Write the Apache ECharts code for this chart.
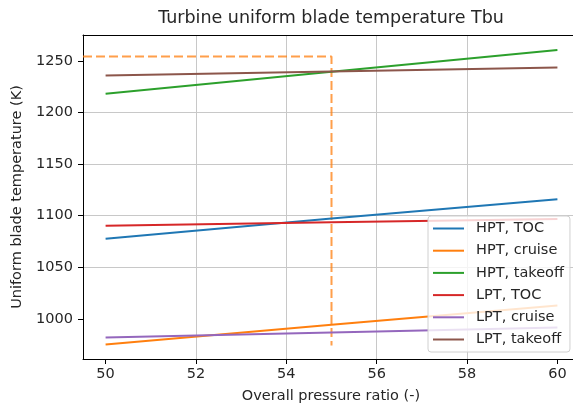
<!DOCTYPE html>
<html>
<head>
<meta charset="utf-8">
<script src="https://cdn.jsdelivr.net/npm/echarts@6/dist/echarts.min.js"></script>
<style>
html,body{margin:0;padding:0;background:#fff;}
#chart{width:573px;height:405px;}
</style>
</head>
<body>
<div id="chart"></div>
<script>
// Data
var opr = [50, 55, 60];
var seriesNames = ['HPT, TOC', 'HPT, cruise', 'HPT, takeoff', 'LPT, TOC', 'LPT, cruise', 'LPT, takeoff'];
var hptToc = [1077.5, 1097.2, 1115.8];
var hptCruise = [975.1, 994.1, 1012.9];
var hptTakeoff = [1218.0, 1239.3, 1260.4];
var lptToc = [1090.1, 1093.5, 1096.6];
var lptCruise = [981.9, 986.7, 991.6];
var lptTakeoff = [1235.8, 1239.7, 1243.6];
var markerX = [49.5, 55, 55];
var markerY = [1254.2, 1254.2, 974.0];
var xTicks = [50, 52, 54, 56, 58, 60];
var yTicks = [1000, 1050, 1100, 1150, 1200, 1250];

var colors = ['#1f77b4', '#ff7f0e', '#2ca02c', '#d62728', '#9467bd', '#8c564b'];
var allValues = [hptToc, hptCruise, hptTakeoff, lptToc, lptCruise, lptTakeoff];

function pairs(xs, ys) { return xs.map(function (x, i) { return [x, ys[i]]; }); }

var FONT = 'DejaVu Sans';
var series = seriesNames.map(function (n, i) {
  return {
    name: n, type: 'line', symbol: 'none', data: pairs(opr, allValues[i]),
    lineStyle: { color: colors[i], width: 2 }, itemStyle: { color: colors[i] },
    z: 3
  };
});
series.push({
  name: 'marker', type: 'line', symbol: 'none', data: pairs(markerX, markerY),
  lineStyle: { color: '#ff7f0e', width: 2, type: [9, 4], opacity: 0.75 }, z: 2
});

var plain = function (v) { return String(v); };

var chart = echarts.init(document.getElementById('chart'), null, { renderer: 'canvas' });
chart.setOption({
  animation: false,
  backgroundColor: '#ffffff',
  color: colors,
  textStyle: { fontFamily: FONT },
  title: {
    text: 'Turbine uniform blade temperature Tbu', left: 331, top: 9, textAlign: 'center', padding: 0,
    textStyle: { fontFamily: FONT, fontSize: 17.5, fontWeight: 'normal', color: '#262626' }
  },
  grid: { left: 83, top: 35, right: 0, bottom: 46, show: false, outerBoundsMode: 'none' },
  legend: {
    data: seriesNames, orient: 'vertical', left: 428, top: 216, padding: [5, 6, 5, 5], itemGap: 7.2,
    icon: 'rect', itemWidth: 31, itemHeight: 2,
    backgroundColor: 'rgba(255,255,255,0.8)', borderColor: '#d0d0d0', borderWidth: 1, borderRadius: 3,
    textStyle: { fontFamily: FONT, fontSize: 14.5, color: '#262626', padding: [0, 0, 0, 7] }
  },
  xAxis: [{
    type: 'value', min: 49.5, max: 60.345, position: 'bottom',
    name: 'Overall pressure ratio (-)', nameLocation: 'middle', nameGap: 30,
    nameTextStyle: { fontFamily: FONT, fontSize: 14.5, color: '#262626', padding: [0, 0, 0, 6] },
    axisLine: { show: true, onZero: false, lineStyle: { color: '#000', width: 1 } },
    axisTick: { show: true, customValues: xTicks, length: 5, lineStyle: { color: '#000' } },
    axisLabel: { customValues: xTicks, formatter: plain, fontFamily: FONT, fontSize: 14.5, color: '#262626', margin: 8 },
    splitLine: { show: true, showMinLine: false, showMaxLine: false, lineStyle: { color: '#c8c8c8', width: 1 } }
  }, {
    type: 'value', min: 49.5, max: 60.345, position: 'top',
    axisLine: { show: true, onZero: false, lineStyle: { color: '#000', width: 1 } },
    axisTick: { show: false }, axisLabel: { show: false }, splitLine: { show: false }
  }],
  yAxis: {
    type: 'value', min: 961, max: 1275,
    name: 'Uniform blade temperature (K)', nameLocation: 'middle', nameGap: 51, nameRotate: 90,
    nameTextStyle: { fontFamily: FONT, fontSize: 14.5, color: '#262626' },
    axisLine: { show: true, onZero: false, lineStyle: { color: '#000', width: 1 } },
    axisTick: { show: true, customValues: yTicks, length: 5, lineStyle: { color: '#000' } },
    axisLabel: { customValues: yTicks, formatter: plain, fontFamily: FONT, fontSize: 14.5, color: '#262626', margin: 10 },
    splitLine: { show: true, showMinLine: false, showMaxLine: false, lineStyle: { color: '#c8c8c8', width: 1 } }
  },
  series: series
});
</script>
</body>
</html>
